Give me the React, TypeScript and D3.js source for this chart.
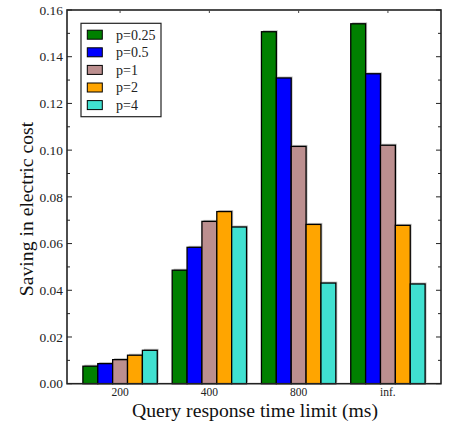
import React from "react";
import * as d3 from "d3";

const categories = ["200", "400", "800", "inf."];
const seriesNames = ["p=0.25", "p=0.5", "p=1", "p=2", "p=4"];
const seriesColors = ["#008000", "#0000ff", "#bc8f8f", "#ffa500", "#40e0d0"];
const p025 = [0.0075, 0.0486, 0.1507, 0.1541];
const p05 = [0.0086, 0.0584, 0.1309, 0.1327];
const p1 = [0.0103, 0.0695, 0.1016, 0.1021];
const p2 = [0.0122, 0.0737, 0.0682, 0.0678];
const p4 = [0.0143, 0.0671, 0.0431, 0.0427];
const seriesValues = [p025, p05, p1, p2, p4];
const yTicks = [0, 0.02, 0.04, 0.06, 0.08, 0.1, 0.12, 0.14, 0.16];
const yMinorTicks = [0.01, 0.03, 0.05, 0.07, 0.09, 0.11, 0.13, 0.15];

const W = 450, H = 424;
const L = 67, R = 441, T = 10, B = 383.7;
const fs = (size: number) => ({ fontFamily: "Liberation Serif", fontSize: `${size}px` });

export default function App() {
  const x = d3.scaleBand<string>().domain(categories).range([L, R]).paddingInner(0.167).paddingOuter(0.178);
  const xs = d3.scaleBand<string>().domain(seriesNames).range([0, x.bandwidth()]);
  const y = d3.scaleLinear().domain([0, 0.16]).range([B, T]);

  return (
    <svg width={W} height={H} style={{ position: "absolute", left: 0, top: 0, background: "#fff" }}>
      <rect x={0} y={0} width={W} height={H} fill="#fff" />
      {seriesValues.map((vals, si) =>
        vals.map((v, ci) => (
          <rect key={`s${si}-${ci}`} x={x(categories[ci])! + xs(seriesNames[si])! + 1.5} y={y(v) - 1.5}
            width={xs.bandwidth()} height={B - y(v)} fill="#999" opacity={0.6} />
        ))
      )}
      {seriesValues.map((vals, si) =>
        vals.map((v, ci) => (
          <rect key={`b${si}-${ci}`} x={x(categories[ci])! + xs(seriesNames[si])!} y={y(v)}
            width={xs.bandwidth()} height={B - y(v)} fill={seriesColors[si]} stroke="#000" strokeWidth={1.3} />
        ))
      )}
      <rect x={L} y={T} width={R - L} height={B - T} fill="none" stroke="#222" strokeWidth={1.6} />
      {yTicks.map((t) => (
        <g key={`yt${t}`}>
          <line x1={L} x2={L + 5} y1={y(t)} y2={y(t)} stroke="#222" strokeWidth={1} />
          <line x1={R} x2={R - 5} y1={y(t)} y2={y(t)} stroke="#222" strokeWidth={1} />
          <text x={L - 4} y={y(t)} dy="0.35em" textAnchor="end" style={fs(13.4)} fill="#222">
            {t.toFixed(2)}
          </text>
        </g>
      ))}
      {yMinorTicks.map((t) => (
        <g key={`ym${t}`}>
          <line x1={L} x2={L + 3} y1={y(t)} y2={y(t)} stroke="#222" strokeWidth={1} />
          <line x1={R} x2={R - 3} y1={y(t)} y2={y(t)} stroke="#222" strokeWidth={1} />
        </g>
      ))}
      {categories.map((c) => {
        const cx = x(c)! + x.bandwidth() / 2;
        return (
          <g key={`xt${c}`}>
            <line x1={cx} x2={cx} y1={T} y2={T + 3} stroke="#444" strokeWidth={1} />
            <text x={cx} y={392} dy="0.35em" textAnchor="middle" style={fs(11.5)} fill="#222">
              {c}
            </text>
          </g>
        );
      })}
      <text x={255} y={410} dy="0.35em" textAnchor="middle" style={fs(19.7)} fill="#111">
        Query response time limit (ms)
      </text>
      <text transform={`translate(26,209) rotate(-90)`} dy="0.35em" textAnchor="middle" style={fs(19.7)} fill="#111">
        Saving in electric cost
      </text>
      <rect x={81} y={23.3} width={80} height={93.4} fill="#fff" stroke="#222" strokeWidth={1.2} />
      {seriesNames.map((n, i) => {
        const cy = 34.7 + i * 17.6;
        return (
          <g key={`lg${n}`}>
            <rect x={87.3} y={cy - 4.5} width={15} height={9} fill={seriesColors[i]} stroke="#000" strokeWidth={1} />
            <text x={116} y={cy} dy="0.35em" style={fs(14)} fill="#222">
              {n}
            </text>
          </g>
        );
      })}
    </svg>
  );
}
